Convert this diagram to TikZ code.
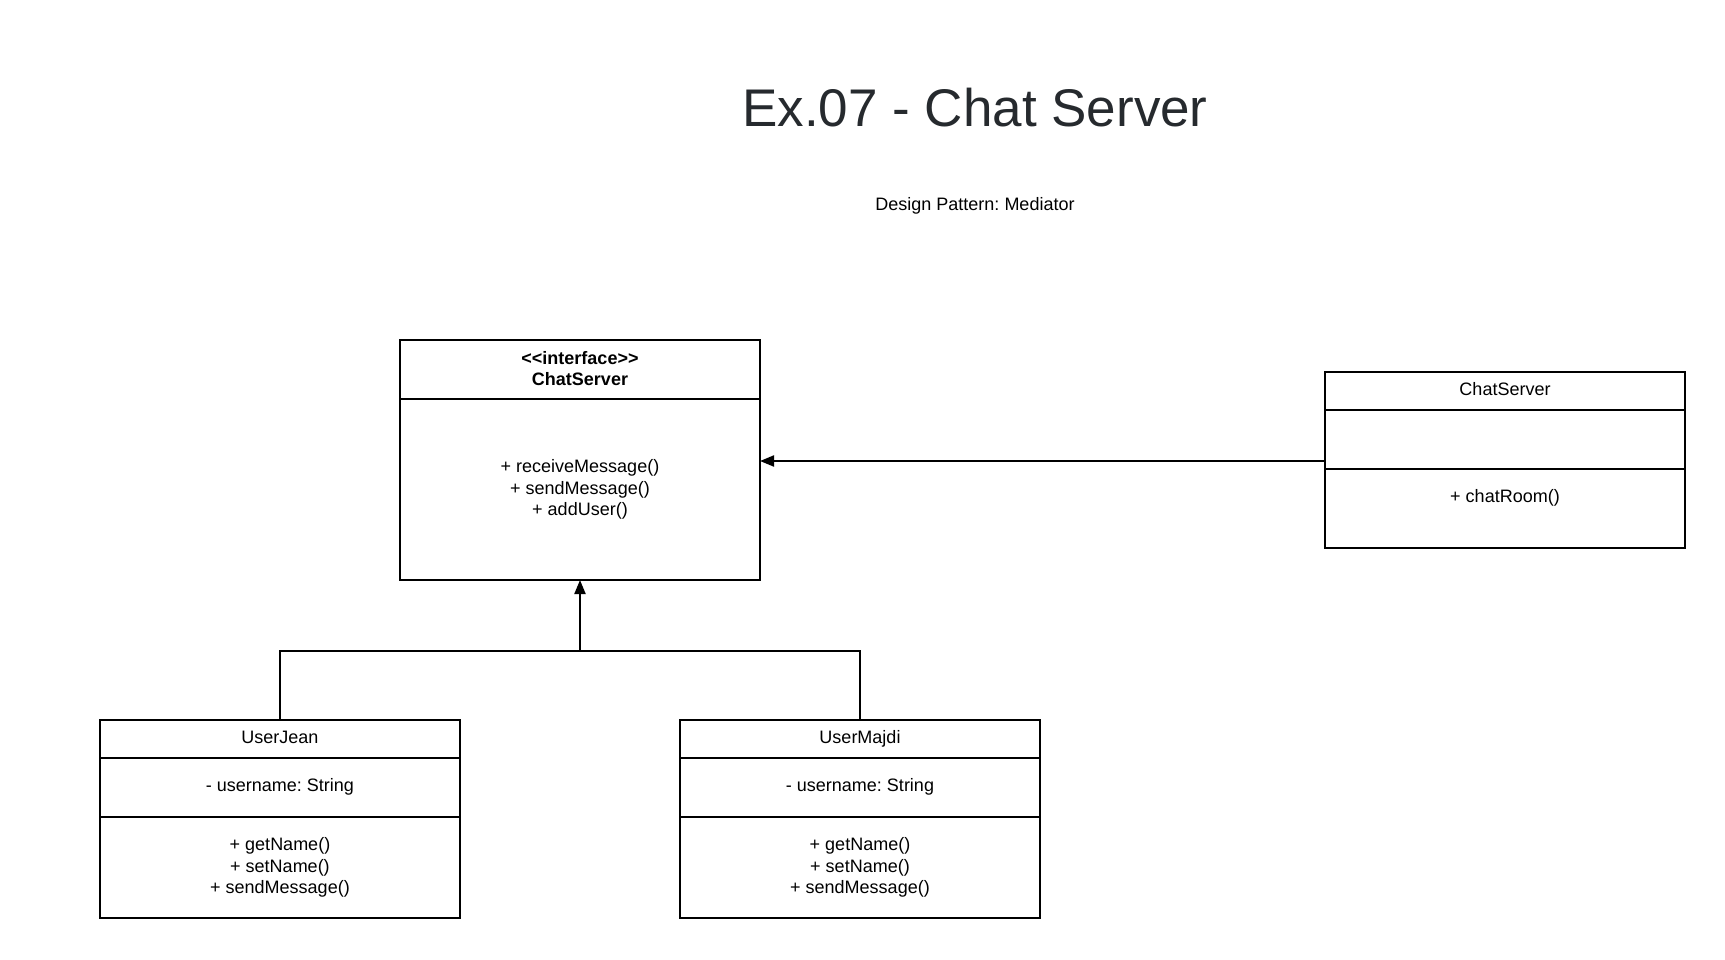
\documentclass[tikz,border=0pt]{standalone}
\usepackage{fontspec}
\setmainfont{Liberation Sans}
\usetikzlibrary{arrows.meta}
\definecolor{titlegray}{HTML}{262A2E}
\frenchspacing
\tikzset{
  classbox/.style={draw, line width=2pt, rectangle, anchor=north west, minimum width=360pt, inner sep=0pt, outer sep=0pt},
  divider/.style={line width=2pt},
  txt/.style={inner sep=0pt, align=center, font=\fontsize{18}{21.6}\selectfont\frenchspacing},
  line1/.style={txt, text height=13pt, text depth=4pt},
  conn/.style={line width=2pt},
  tip/.style={-{Triangle[length=14pt,width=11pt]}}
}
\begin{document}
\begin{tikzpicture}[x=1pt,y=-1pt]
\useasboundingbox (0,0) rectangle (1725,959);

% title
\node[inner sep=0pt, text=titlegray, font=\fontsize{53}{60}\selectfont] (title) at (975,108) {Ex.07 - Chat Server};
\node[line1] (subtitle) at (975,206) {Design Pattern: Mediator};

% interface ChatServer
\node[classbox, minimum height=240pt] (iface) at (400,340) {};
\draw[divider] (iface.west |- 0,399) -- (iface.east |- 0,399);
\node[txt, font=\fontsize{18}{21.6}\selectfont\bfseries] (ifacename) at (580,368.5) {<\kern0pt<interface>\kern0pt>\\ChatServer};
\node[txt] (ifaceops) at (580,489.5) {+ receiveMessage()\\+ sendMessage()\\+ addUser()};

% concrete ChatServer
\node[classbox, minimum height=176pt] (server) at (1325,372) {};
\draw[divider] (server.west |- 0,410) -- (server.east |- 0,410);
\draw[divider] (server.west |- 0,469) -- (server.east |- 0,469);
\node[line1] (servername) at (1505,391) {ChatServer};
\node[line1] (serverops) at (1505,498) {+ chatRoom()};

% UserJean
\node[classbox, minimum height=198pt] (jean) at (100,720) {};
\draw[divider] (jean.west |- 0,758) -- (jean.east |- 0,758);
\draw[divider] (jean.west |- 0,817) -- (jean.east |- 0,817);
\node[line1] (jeanname) at (280,738.5) {UserJean};
\node[line1] (jeanattr) at (280,786.5) {- username: String};
\node[txt] (jeanops) at (280,867.5) {+ getName()\\+ setName()\\+ sendMessage()};

% UserMajdi
\node[classbox, minimum height=198pt] (majdi) at (680,720) {};
\draw[divider] (majdi.west |- 0,758) -- (majdi.east |- 0,758);
\draw[divider] (majdi.west |- 0,817) -- (majdi.east |- 0,817);
\node[line1] (majdiname) at (860,738.5) {UserMajdi};
\node[line1] (majdiattr) at (860,786.5) {- username: String};
\node[txt] (majdiops) at (860,867.5) {+ getName()\\+ setName()\\+ sendMessage()};

% connectors
\coordinate (junction) at (580,651);
\draw[conn] (jean.north) |- (junction) -| (majdi.north);
\draw[conn, tip] (junction) -- (iface.south);
\draw[conn, tip] (server.west |- 0,461) -- (iface.east |- 0,461);
\end{tikzpicture}
\end{document}
